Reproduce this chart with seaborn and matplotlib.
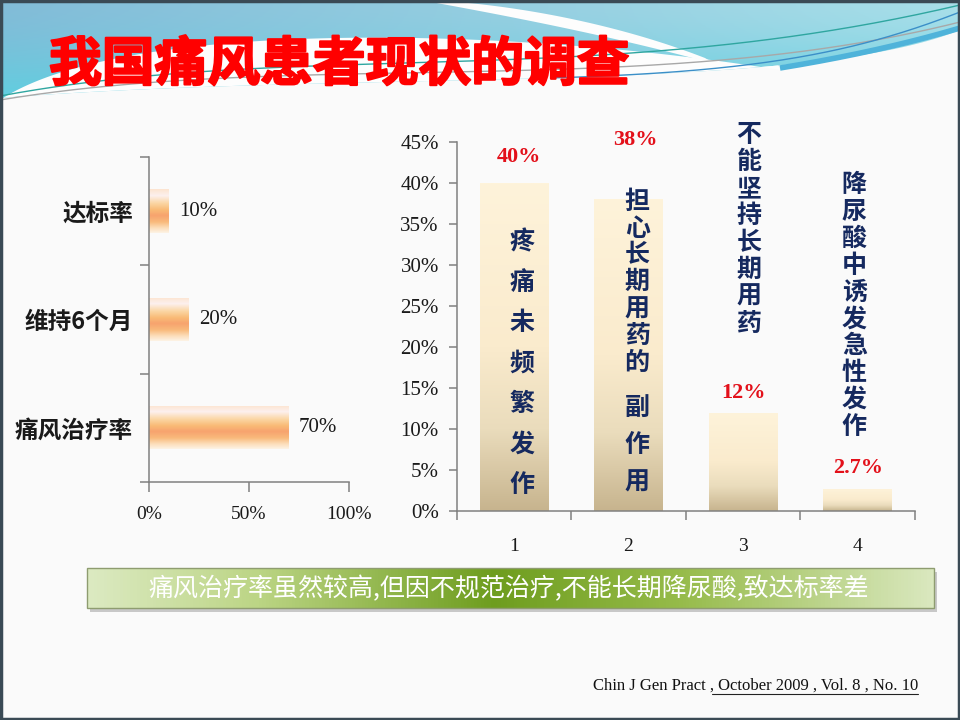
import numpy as np
import pandas as pd
import matplotlib
matplotlib.use("Agg")
import matplotlib.pyplot as plt
import matplotlib.patheffects as pe
import seaborn as sns
from matplotlib.colors import LinearSegmentedColormap, to_rgb
from matplotlib.patches import Polygon, Rectangle
from math import comb

# ---- data ----
left_labels = ["达标率", "维持6个月", "痛风治疗率"]
left_values = [10, 20, 70]

right_cats = ["1", "2", "3", "4"]
right_values = [40, 38, 12, 2.7]
right_value_text = ["40%", "38%", "12%", "2.7%"]
right_ticks = [0, 5, 10, 15, 20, 25, 30, 35, 40, 45]

# reason written down each bar: (start y in %, step in %, text) pieces
reason_pieces = [
    [(32.8, 4.94, "疼痛未频繁发作")],
    [(37.7, 3.27, "担心长期用药的"), (12.56, 4.57, "副作用")],
    [(45.85, 3.29, "不能坚持长期用药")],
    [(39.76, 3.28, "降尿酸中诱发急性发作")],
]
reason_dx = [0.07, 0.075, 0.05, -0.03]
label_y = [43.2, 45.2, 14.4, 5.24]
label_dx = [0.04, 0.06, 0.0, 0.0]

title = "我国痛风患者现状的调查"
summary = "痛风治疗率虽然较高,但因不规范治疗,不能长期降尿酸,致达标率差"
source = "Chin J Gen Pract , October 2009 , Vol. 8 , No. 10"

sns.set_theme(style="white")
plt.rcParams["font.family"] = ["Liberation Serif", "Noto Sans CJK SC", "DejaVu Sans"]
cjk = ["Noto Sans CJK SC", "DejaVu Sans"]


def bezier(pts, n=200):
    pts = np.asarray(pts, float)
    t = np.linspace(0, 1, n)[:, None]
    k = len(pts) - 1
    return sum(comb(k, i) * (1 - t) ** (k - i) * t ** i * pts[i] for i in range(k + 1))


def gradient_bar(ax, patch, cmap, horizontal):
    x0, y0 = patch.get_x(), patch.get_y()
    w, h = patch.get_width(), patch.get_height()
    grad = np.linspace(0, 1, 256).reshape(-1, 1)
    if horizontal:
        extent = (x0, x0 + w, y0 + h, y0)
    else:
        extent = (x0, x0 + w, y0, y0 + h)
    im = ax.imshow(grad, cmap=cmap, aspect="auto", extent=extent,
                   origin="upper", zorder=patch.get_zorder() + 0.1)
    im.set_clip_path(patch)
    patch.set_facecolor("none")
    patch.set_edgecolor("none")


orange_cmap = LinearSegmentedColormap.from_list("orange", [
    (0.0, "#FCE4CF"), (0.15, "#FDF0EE"), (0.32, "#FBD6A4"), (0.47, "#F9BB76"),
    (0.6, "#F7A36E"), (0.75, "#F9BA7C"), (0.88, "#FCDDB8"), (1.0, "#FDF3E6")])
tan_cmap = LinearSegmentedColormap.from_list("tan", [
    (0.0, "#FEF3DA"), (0.5, "#FAEBCD"), (0.75, "#EADCBC"), (1.0, "#C7B48E")])
green_cmap = LinearSegmentedColormap.from_list("green", [
    (0.0, "#DCEAC2"), (0.2, "#BCD585"), (0.48, "#6E9D1E"), (0.7, "#96BB4A"),
    (1.0, "#DAE8BF")])

fig = plt.figure(figsize=(9.6, 7.2), dpi=100)
fig.patch.set_facecolor("#FAFAFA")

# ---- slide background ----
bg = fig.add_axes([0, 0, 1, 1], zorder=-10)
bg.axis("off")

lower = bezier([(0, 98), (350, 70), (800, 95), (960, 30)])
band = Polygon(np.vstack([[(0, 0), (960, 0)], lower[::-1]]), closed=True,
               facecolor="none", edgecolor="none")
bg.add_patch(band)
tl, tr, bt = np.array(to_rgb("#82BCD8")), np.array(to_rgb("#A8DFE9")), np.array(to_rgb("#5FCFE0"))
gx = np.linspace(0, 1, 200)[None, :, None]
gy = np.linspace(0, 1, 60)[:, None, None]
top = tl * (1 - gx) + tr * gx
img = top * (1 - gy ** 1.6) + bt * gy ** 1.6
im = bg.imshow(img, extent=(0, 960, 100, 0), origin="upper", aspect="auto", zorder=1)
im.set_clip_path(band)

upper = bezier([(0, 100), (120, 20), (500, 25), (780, 70)])
arc = np.vstack([upper, lower[lower[:, 0] <= 780][::-1]])
bg.add_patch(Polygon(arc, closed=True, facecolor="#FDFDFD", edgecolor="none", zorder=2))
stripe = np.vstack([bezier([(430, 0), (520, 5), (620, 25), (705, 58)]),
                    bezier([(715, 64), (620, 38), (520, 18), (420, 0)])])
bg.add_patch(Polygon(stripe, closed=True, facecolor="#FDFDFD", edgecolor="none", zorder=2))

for pts, col, lw in [
    ([(0, 96), (300, 40), (600, 90), (960, 5)], "#2FA6A0", 1.0),
    ([(0, 100), (300, 50), (650, 100), (960, 22)], "#A8A8A8", 1.0),
    ([(550, 78), (750, 72), (850, 55), (960, 12)], "#3B8FC8", 1.0),
    ([(780, 68), (860, 55), (920, 40), (960, 28)], "#4FB3DA", 4.0),
]:
    c = bezier(pts)
    bg.plot(c[:, 0], c[:, 1], color=col, lw=lw, zorder=3, solid_capstyle="butt")

bg.text(49, 65, title, ha="left", va="center", fontsize=38, color="#FF0000",
        fontweight="bold", family=cjk, zorder=5,
        path_effects=[pe.withStroke(linewidth=1.5, foreground="#FF0000")])

# summary box
bg.add_patch(Rectangle((90, 572), 847, 40, facecolor="#8C8C8C", edgecolor="none",
                       alpha=0.45, zorder=3))
box = Rectangle((87, 568), 847, 40, facecolor="none", edgecolor="#8E9C70", lw=1.0, zorder=5)
bg.add_patch(box)
gim = bg.imshow(np.linspace(0, 1, 256).reshape(1, -1), cmap=green_cmap,
                extent=(87, 934, 608, 568), origin="upper", aspect="auto", zorder=4)
gim.set_clip_path(box)
bg.text(509, 589, summary, ha="center", va="center", fontsize=18, color="white",
        family=cjk, zorder=6)

bg.text(918, 686, source, ha="right", va="center", fontsize=12, color="#111111",
        family=["Liberation Serif"], zorder=6)
bg.plot([712, 918], [694, 694], color="#222222", lw=0.8, zorder=6)

bg.add_patch(Rectangle((1, 1), 958, 718, fill=False, edgecolor="#3A4A55", lw=2.5, zorder=7))
bg.set_xlim(0, 960)
bg.set_ylim(720, 0)

# ---- left chart: horizontal bars ----
axL = fig.add_axes([149 / 960, 1 - 482 / 720, 200 / 960, 325 / 720])
axL.set_facecolor("none")
dfL = pd.DataFrame({"label": left_labels, "value": left_values})
sns.barplot(data=dfL, x="value", y="label", orient="h", width=0.4,
            color="#F9B070", errorbar=None, ax=axL)
for p in axL.patches:
    gradient_bar(axL, p, orange_cmap, horizontal=True)
for i, v in enumerate(left_values):
    axL.text(v + 5, i, f"{v}%", ha="left", va="center", fontsize=15, color="#1A1A1A")

axL.set_xlim(0, 100)
axL.set_ylim(2.5, -0.5)
axL.set_xlabel("")
axL.set_ylabel("")
axL.set_xticks([0, 50, 100])
axL.set_xticklabels(["0%", "50%", "100%"])
axL.tick_params(axis="x", which="major", bottom=True, length=7.2, width=1.1,
                color="#808080", pad=10, labelsize=14, labelcolor="#1A1A1A")
axL.set_yticks([0, 1, 2])
axL.set_yticklabels(left_labels, fontsize=17, fontweight="bold", family=cjk, color="#1A1A1A")
axL.tick_params(axis="y", which="major", left=True, length=0, pad=11.5)
axL.set_yticks([-0.5, 0.5, 1.5, 2.5], minor=True)
axL.tick_params(axis="y", which="minor", left=True, length=6.5, width=1.1, color="#808080")
for s in ["top", "right"]:
    axL.spines[s].set_visible(False)
for s in ["left", "bottom"]:
    axL.spines[s].set_color("#808080")
    axL.spines[s].set_linewidth(1.1)

# ---- right chart: vertical bars ----
axR = fig.add_axes([456.6 / 960, 1 - 511 / 720, 458.4 / 960, 369 / 720])
axR.set_facecolor("none")
dfR = pd.DataFrame({"cat": right_cats, "value": right_values})
sns.barplot(data=dfR, x="cat", y="value", width=0.6, color="#F3E6C6",
            errorbar=None, ax=axR)
for p in axR.patches:
    gradient_bar(axR, p, tan_cmap, horizontal=False)

for i, (txt, y, dx) in enumerate(zip(right_value_text, label_y, label_dx)):
    axR.text(i + dx, y, txt, ha="center", va="center", fontsize=16,
             fontweight="bold", color="#E3101A", zorder=5)

for i, pieces in enumerate(reason_pieces):
    for y0, step, txt in pieces:
        for k, ch in enumerate(txt):
            axR.text(i + reason_dx[i], y0 - k * step, ch, ha="center", va="center",
                     fontsize=18, fontweight="bold", color="#15295F", family=cjk, zorder=5)

axR.set_xlim(-0.5, 3.5)
axR.set_ylim(0, 45)
axR.set_xlabel("")
axR.set_ylabel("")
axR.set_yticks(right_ticks)
axR.set_yticklabels([f"{t}%" for t in right_ticks])
axR.tick_params(axis="y", left=True, length=5.8, width=1.1, color="#808080",
                pad=7, labelsize=15, labelcolor="#1A1A1A")
axR.set_xticks(range(len(right_cats)))
axR.set_xticklabels(right_cats)
axR.tick_params(axis="x", which="major", bottom=True, length=0, pad=19.5,
                labelsize=14, labelcolor="#1A1A1A")
axR.set_xticks([-0.5, 0.5, 1.5, 2.5, 3.5], minor=True)
axR.tick_params(axis="x", which="minor", bottom=True, length=6.5, width=1.1, color="#808080")
for s in ["top", "right"]:
    axR.spines[s].set_visible(False)
for s in ["left", "bottom"]:
    axR.spines[s].set_color("#808080")
    axR.spines[s].set_linewidth(1.1)

fig.savefig("out.png", dpi=100, facecolor=fig.get_facecolor())
